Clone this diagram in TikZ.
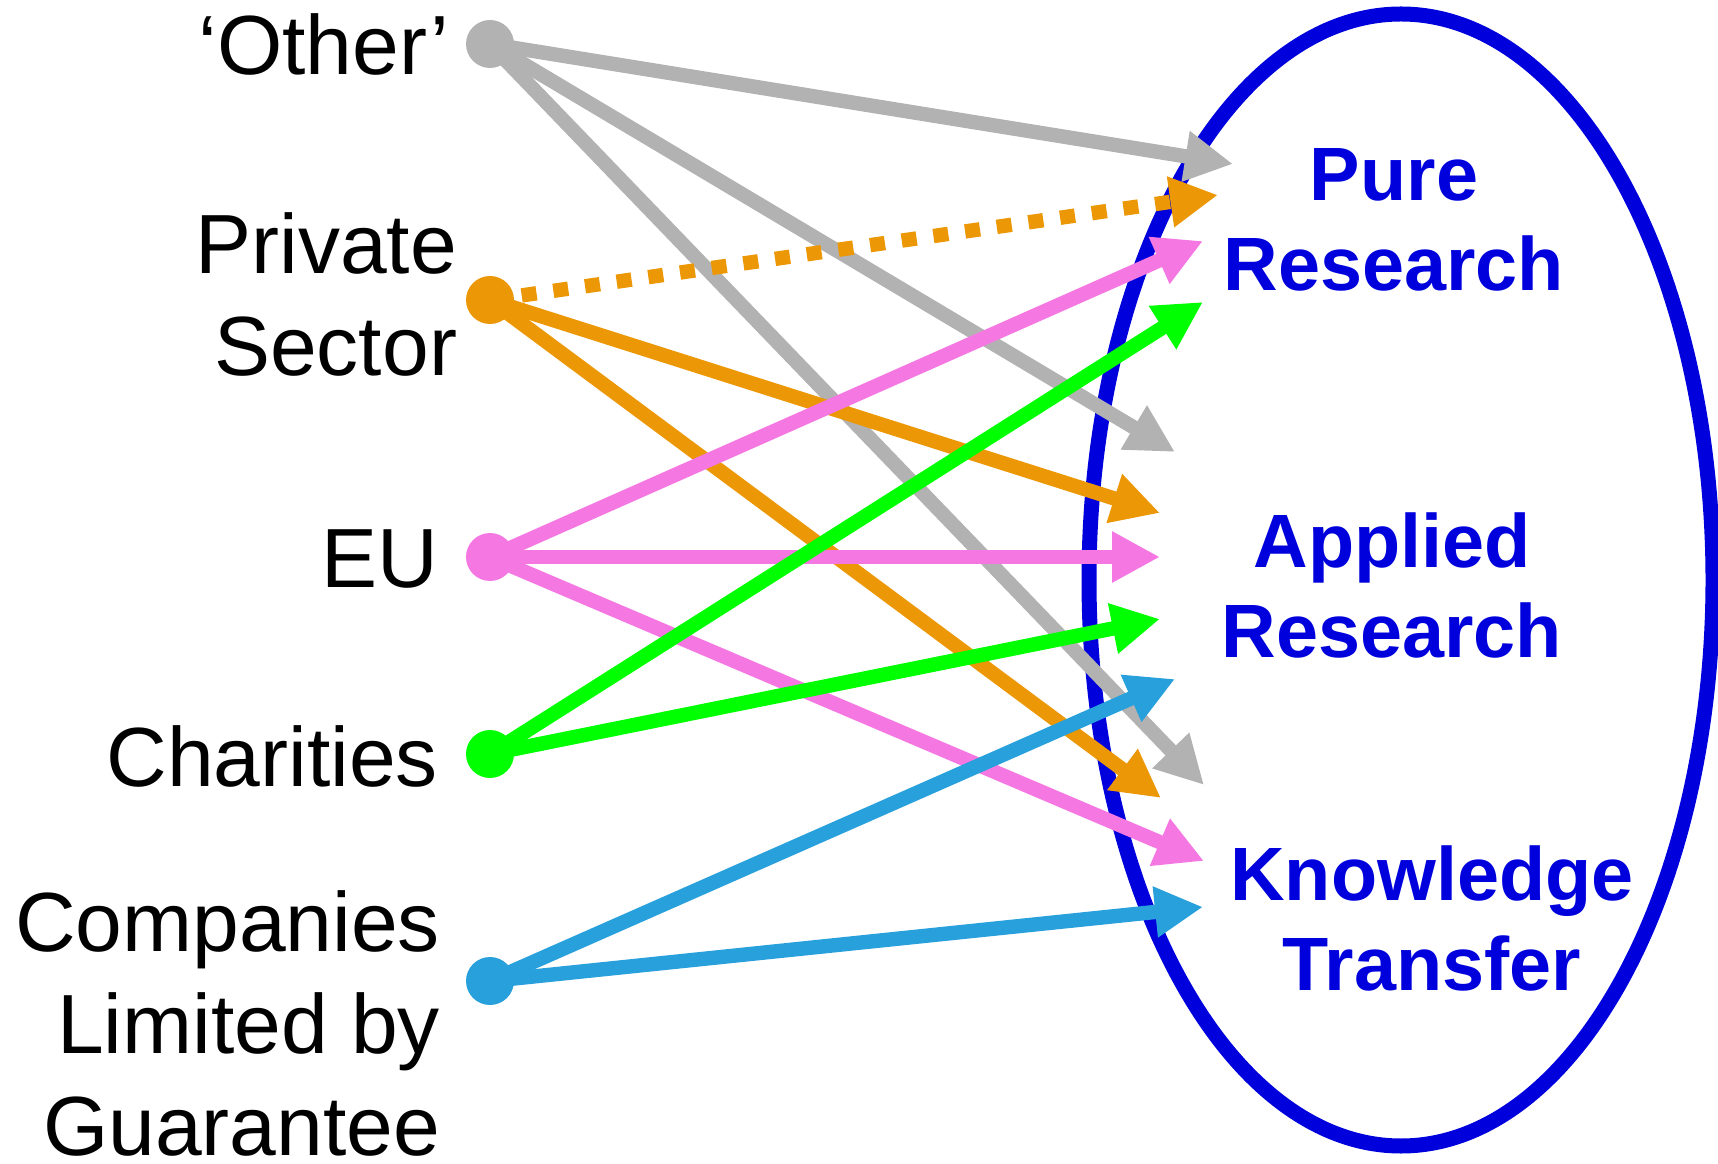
\documentclass[tikz,border=0pt]{standalone}
\usepackage{fontspec}
\setmainfont{Liberation Sans}
\usetikzlibrary{arrows.meta}
\definecolor{FundGrey}{RGB}{178,178,178}
\definecolor{FundOrange}{RGB}{236,151,6}
\definecolor{FundPink}{RGB}{245,120,226}
\definecolor{FundGreen}{RGB}{0,255,0}
\definecolor{FundCyan}{RGB}{40,160,220}
\definecolor{FundBlue}{RGB}{0,0,221}
\tikzset{
    fund/diagram/.style={
        line cap=butt,
        line join=miter,
        every node/.style={inner sep=0pt, outer sep=0pt}
    },
    fund/source/.style={
        font=\fontsize{42}{51}\selectfont,
        align=right, anchor=east
    },
    fund/target/.style={
        font=\fontsize{37.8}{45}\selectfont\bfseries,
        text=FundBlue, align=center
    },
    fund/dot/.style={circle, draw=none, minimum size=24pt},
    fund/flow/.style={
        line width=7.2pt,
        -{Triangle[length=24pt, width=24pt]}
    },
    fund/maybe/.style={fund/flow, dash pattern=on 7.5pt off 8.5pt},
    fund/domain/.style={draw=FundBlue, line width=7.5pt}
}

\begin{document}
\begin{tikzpicture}[fund/diagram, x=0.5pt, y=0.5pt]
    \useasboundingbox (0,0) rectangle (1718,1163);

    % kinds of research
    \draw[fund/domain] (1401,583) ellipse [x radius=312, y radius=566];
    \node[fund/target] (pure) at (1394,943) {Pure\\Research};
    \node[fund/target] (applied) at (1392,578) {Applied\\Research};
    \node[fund/target] (knowledge) at (1432,245) {Knowledge\\Transfer};

    % funders
    \node[fund/dot, fill=FundGrey] (oth) at (490,1119) {};
    \node[fund/dot, fill=FundOrange] (prv) at (490,863) {};
    \node[fund/dot, fill=FundPink] (eu) at (490,606) {};
    \node[fund/dot, fill=FundGreen] (cha) at (490,409) {};
    \node[fund/dot, fill=FundCyan] (clg) at (490,182) {};
    \node[fund/source] (other) at (449,1119) {‘Other’};
    \node[fund/source] (private) at (457,869) {Private\\Sector};
    \node[fund/source] (europe) at (438,604) {EU};
    \node[fund/source] (charities) at (438,407) {Charities};
    \node[fund/source] (companies) at (440,140) {Companies\\Limited by\\Guarantee};

    % arrow ends at the edge of the ellipse
    \coordinate (oth-pure) at (1233,999);
    \coordinate (oth-appl) at (1175,711);
    \coordinate (oth-know) at (1204,378);
    \coordinate (prv-pure) at (1218,968);
    \coordinate (prv-appl) at (1160,650);
    \coordinate (prv-know) at (1161,365);
    \coordinate (eu-pure) at (1203,922);
    \coordinate (eu-appl) at (1160,606);
    \coordinate (eu-know) at (1204,302);
    \coordinate (cha-pure) at (1203,861);
    \coordinate (cha-appl) at (1160,544);
    \coordinate (clg-appl) at (1175,484);
    \coordinate (clg-know) at (1203,256);

    \draw[fund/flow, FundGrey] (oth.center) -- (oth-pure);
    \draw[fund/flow, FundGrey] (oth.center) -- (oth-appl);
    \draw[fund/flow, FundGrey] (oth.center) -- (oth-know);
    \draw[fund/maybe, FundOrange] (prv.center) -- (prv-pure);
    \draw[fund/flow, FundOrange] (prv.center) -- (prv-appl);
    \draw[fund/flow, FundOrange] (prv.center) -- (prv-know);
    \draw[fund/flow, FundPink] (eu.center) -- (eu-pure);
    \draw[fund/flow, FundPink] (eu.center) -- (eu-appl);
    \draw[fund/flow, FundPink] (eu.center) -- (eu-know);
    \draw[fund/flow, FundGreen] (cha.center) -- (cha-pure);
    \draw[fund/flow, FundGreen] (cha.center) -- (cha-appl);
    \draw[fund/flow, FundCyan] (clg.center) -- (clg-appl);
    \draw[fund/flow, FundCyan] (clg.center) -- (clg-know);
\end{tikzpicture}
\end{document}
